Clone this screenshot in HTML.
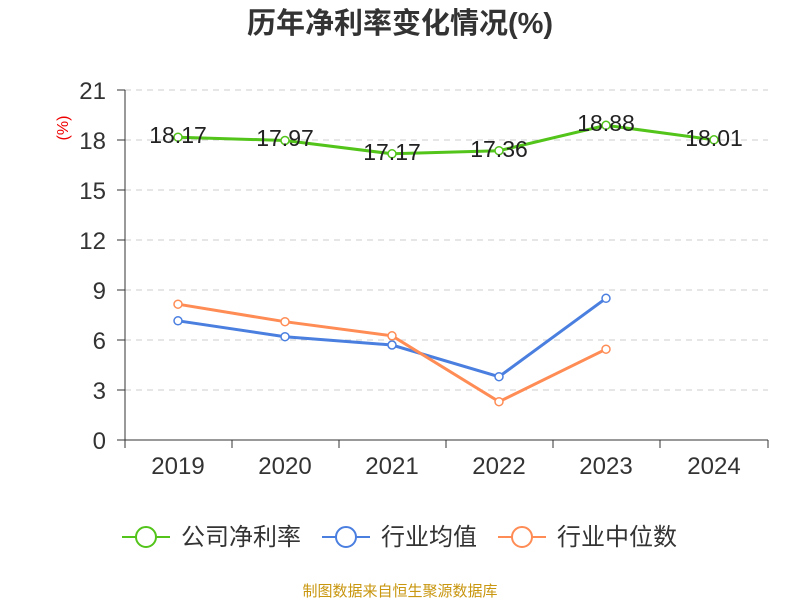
<!DOCTYPE html>
<html><head><meta charset="utf-8"><style>body{margin:0;background:#fff}svg{display:block}text{font-family:"Liberation Sans","Noto Sans CJK SC",sans-serif}</style></head>
<body>
<svg width="800" height="600" viewBox="0 0 800 600">
<text x="400" y="33" text-anchor="middle" font-size="29" font-weight="bold" fill="#333">历年净利率变化情况(%)</text>
<text x="68" y="128" font-size="16" fill="#e00" transform="rotate(-90 68 128)" text-anchor="middle">(%)</text>
<g stroke="#ccc" stroke-dasharray="6,5" stroke-width="1">
<line x1="125" x2="768" y1="90" y2="90"/><line x1="125" x2="768" y1="140" y2="140"/><line x1="125" x2="768" y1="190" y2="190"/><line x1="125" x2="768" y1="240" y2="240"/><line x1="125" x2="768" y1="290" y2="290"/><line x1="125" x2="768" y1="340" y2="340"/><line x1="125" x2="768" y1="390" y2="390"/>
</g>
<g stroke="#333" stroke-width="1">
<line x1="125" x2="125" y1="90" y2="440"/><line x1="125" x2="768" y1="440" y2="440"/>
<line x1="117" x2="125" y1="90" y2="90"/><line x1="117" x2="125" y1="140" y2="140"/><line x1="117" x2="125" y1="190" y2="190"/><line x1="117" x2="125" y1="240" y2="240"/><line x1="117" x2="125" y1="290" y2="290"/><line x1="117" x2="125" y1="340" y2="340"/><line x1="117" x2="125" y1="390" y2="390"/><line x1="117" x2="125" y1="440" y2="440"/>
<line x1="125" x2="125" y1="440" y2="448"/><line x1="232" x2="232" y1="440" y2="448"/><line x1="339" x2="339" y1="440" y2="448"/><line x1="446" x2="446" y1="440" y2="448"/><line x1="553" x2="553" y1="440" y2="448"/><line x1="660" x2="660" y1="440" y2="448"/><line x1="768" x2="768" y1="440" y2="448"/>
</g>
<g font-size="24" fill="#333" text-anchor="end">
<text x="106" y="99">21</text><text x="106" y="149">18</text><text x="106" y="199">15</text><text x="106" y="249">12</text><text x="106" y="299">9</text><text x="106" y="349">6</text><text x="106" y="399">3</text><text x="106" y="449">0</text>
</g>
<g font-size="24" fill="#333" text-anchor="middle">
<text x="178" y="474">2019</text><text x="285" y="474">2020</text><text x="392" y="474">2021</text><text x="499" y="474">2022</text><text x="606" y="474">2023</text><text x="714" y="474">2024</text>
</g>
<polyline fill="none" stroke="#52c41a" stroke-width="3" points="178,137.2 285,140.5 392,153.8 499,150.7 606,125.3 714,139.8"/>
<polyline fill="none" stroke="#4a7fe0" stroke-width="3" points="178,320.8 285,336.7 392,345 499,376.7 606,298.3"/>
<polyline fill="none" stroke="#ff8c55" stroke-width="3" points="178,304.2 285,321.7 392,335.8 499,401.7 606,349.2"/>
<g fill="#fff" stroke-width="1.5">
<g stroke="#52c41a"><circle cx="178" cy="137.2" r="4"/><circle cx="285" cy="140.5" r="4"/><circle cx="392" cy="153.8" r="4"/><circle cx="499" cy="150.7" r="4"/><circle cx="606" cy="125.3" r="4"/><circle cx="714" cy="139.8" r="4"/></g>
<g stroke="#4a7fe0"><circle cx="178" cy="320.8" r="4"/><circle cx="285" cy="336.7" r="4"/><circle cx="392" cy="345" r="4"/><circle cx="499" cy="376.7" r="4"/><circle cx="606" cy="298.3" r="4"/></g>
<g stroke="#ff8c55"><circle cx="178" cy="304.2" r="4"/><circle cx="285" cy="321.7" r="4"/><circle cx="392" cy="335.8" r="4"/><circle cx="499" cy="401.7" r="4"/><circle cx="606" cy="349.2" r="4"/></g>
</g>
<g font-size="23" fill="#222" text-anchor="middle">
<text x="178" y="143">18.17</text><text x="285" y="146">17.97</text><text x="392" y="160">17.17</text><text x="499" y="157">17.36</text><text x="606" y="131">18.88</text><text x="714" y="146">18.01</text>
</g>
<g stroke-width="2" fill="#fff">
<line x1="122" x2="170" y1="537" y2="537" stroke="#52c41a"/><circle cx="146" cy="537" r="10" stroke="#52c41a"/>
<line x1="322" x2="370" y1="537" y2="537" stroke="#4a7fe0"/><circle cx="346" cy="537" r="10" stroke="#4a7fe0"/>
<line x1="498" x2="546" y1="537" y2="537" stroke="#ff8c55"/><circle cx="522" cy="537" r="10" stroke="#ff8c55"/>
</g>
<g font-size="24" fill="#333">
<text x="181" y="545">公司净利率</text><text x="381" y="545">行业均值</text><text x="557" y="545">行业中位数</text>
</g>
<text x="400" y="596" text-anchor="middle" font-size="15" fill="#c8960f">制图数据来自恒生聚源数据库</text>
</svg>
</body></html>
